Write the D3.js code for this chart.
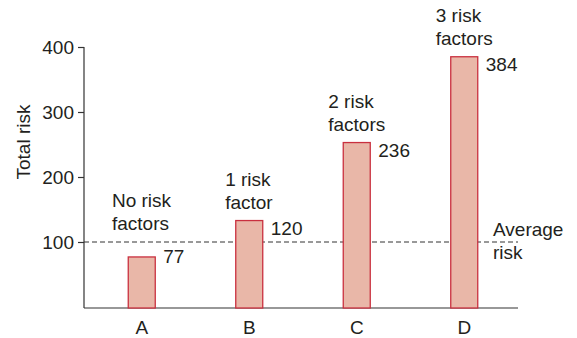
<!DOCTYPE html>
<html>
<head>
<meta charset="utf-8">
<script src="https://cdn.jsdelivr.net/npm/d3@7"></script>
<style>
  body { margin:0; background:#fff; }
  text { font-family: "Liberation Sans", Arial, sans-serif; fill:#231f20; }
</style>
</head>
<body>
<svg id="chart" width="577" height="338"></svg>
<script>
var categories = ["A", "B", "C", "D"]
  , barValues = [77, 133, 253, 385]          // heights as drawn
  , valueLabels = ["77", "120", "236", "384"] // numbers printed beside bars
  , groupLabels = [["No risk", "factors"], ["1 risk", "factor"], ["2 risk", "factors"], ["3 risk", "factors"]]
  , yTicks = [100, 200, 300, 400]
  , averageRisk = 100
  , averageLabel = ["Average", "risk"]
  , yTitle = "Total risk";

var svg = d3.select("#chart")
  , axisLeftX = 84
  , axisRightX = 518
  , fontSize = 19
  , lineGap = 23
  , barWidth = 27;

var y = d3.scaleLinear().domain([0, 400]).range([307, 47]);
var x = d3.scalePoint().domain(categories).range([88, 518]).padding(0.5);

// y axis
var yAxis = svg.append("g")
  .attr("transform", "translate(" + axisLeftX + ",0)")
  .call(d3.axisLeft(y).tickValues(yTicks).tickSize(6).tickPadding(4));
yAxis.select(".domain").attr("d", "M0," + y(400) + "V" + (y(0) + 1)).attr("stroke", "#333").attr("stroke-width", 1.2);
yAxis.selectAll(".tick line").attr("stroke", "#333").attr("stroke-width", 1.2);
yAxis.selectAll(".tick text").attr("font-size", fontSize).attr("font-family", null).attr("fill", "#231f20");

// x axis line
svg.append("line")
  .attr("x1", axisLeftX).attr("x2", axisRightX)
  .attr("y1", y(0) + 1).attr("y2", y(0) + 1)
  .attr("stroke", "#333").attr("stroke-width", 1.2);

svg.selectAll(".cat-label")
  .data(categories)
  .enter().append("text")
  .attr("class", "cat-label")
  .attr("x", function(d){ return x(d); })
  .attr("y", 334)
  .attr("text-anchor", "middle")
  .attr("font-size", fontSize)
  .text(function(d){ return d; });

// y title
svg.append("text")
  .attr("transform", "translate(30," + ((y(400) + y(0)) / 2 - 35) + ") rotate(-90)")
  .attr("text-anchor", "middle")
  .attr("font-size", fontSize)
  .text(yTitle);

// average dashed line
svg.append("line")
  .attr("x1", axisLeftX).attr("x2", axisRightX)
  .attr("y1", y(averageRisk)).attr("y2", y(averageRisk))
  .attr("stroke", "#333").attr("stroke-width", 1)
  .attr("stroke-dasharray", "5,3");

svg.append("text")
  .attr("x", 493)
  .attr("y", y(averageRisk) - 6)
  .attr("font-size", fontSize)
  .selectAll("tspan")
  .data(averageLabel)
  .enter().append("tspan")
  .attr("x", 493)
  .attr("dy", function(d, i){ return i ? lineGap : 0; })
  .text(function(d){ return d; });

// bars
svg.selectAll(".bar")
  .data(barValues)
  .enter().append("rect")
  .attr("class", "bar")
  .attr("x", function(d, i){ return x(categories[i]) - barWidth / 2; })
  .attr("y", function(d){ return y(d); })
  .attr("width", barWidth)
  .attr("height", function(d){ return y(0) + 1 - y(d); })
  .attr("fill", "#e9b7a8")
  .attr("stroke", "#c9303f")
  .attr("stroke-width", 1.3);

// value labels sit just below the bar top, but never lower than under the average line
svg.selectAll(".val-label")
  .data(valueLabels)
  .enter().append("text")
  .attr("class", "val-label")
  .attr("x", function(d, i){ return x(categories[i]) + barWidth / 2 + 8; })
  .attr("y", function(d, i){ return Math.min(y(barValues[i]) + 14, y(averageRisk) + 21); })
  .attr("font-size", fontSize)
  .text(function(d){ return d; });

// group descriptions, left-aligned block centred over bar, kept above the average line
svg.selectAll(".grp-label")
  .data(groupLabels)
  .enter().append("text")
  .attr("class", "grp-label")
  .attr("font-size", fontSize)
  .each(function(lines, i){
    var t = d3.select(this)
      , bottom = Math.min(y(barValues[i]), y(averageRisk)) - 12;
    t.selectAll("tspan")
      .data(lines)
      .enter().append("tspan")
      .attr("x", 0)
      .attr("y", function(d, j){ return bottom - (lines.length - 1 - j) * lineGap; })
      .text(function(d){ return d; });
    var w = this.getBBox().width;
    t.attr("transform", "translate(" + (x(categories[i]) - w / 2) + ",0)");
  });
</script>
</body>
</html>
